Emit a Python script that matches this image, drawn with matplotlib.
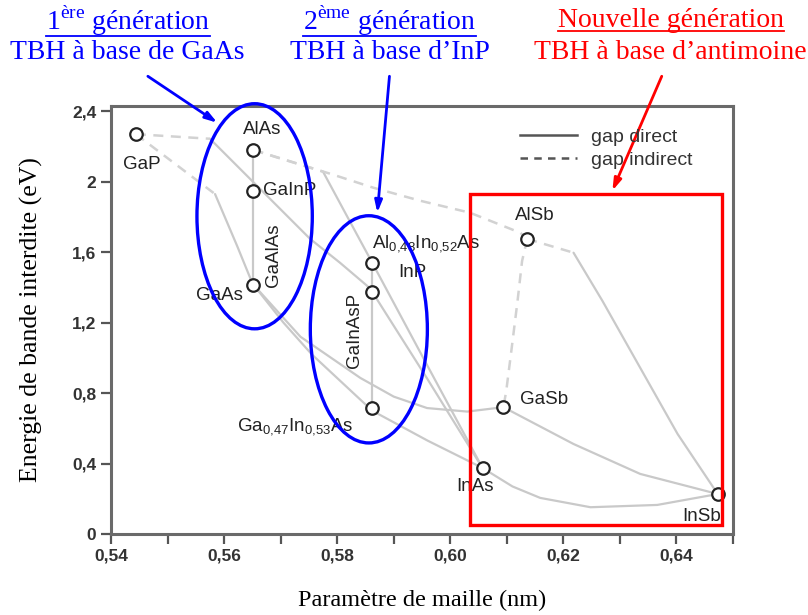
import matplotlib
matplotlib.use("Agg")
import matplotlib.pyplot as plt
from matplotlib.patches import Ellipse, Rectangle
from matplotlib.lines import Line2D
from matplotlib.ticker import MultipleLocator, FuncFormatter

plt.rcParams['mathtext.fontset'] = 'custom'
plt.rcParams['mathtext.rm'] = 'Liberation Serif'
plt.rcParams['mathtext.sf'] = 'Liberation Sans'

# points: lattice constant (nm) and band gap (eV)
names = ['GaP', 'AlAs', 'GaInP', 'GaAs', 'AlInAs', 'InP', 'GaInAs',
         'AlSb', 'GaSb', 'InAs', 'InSb']
a_nm = [0.5444, 0.5652, 0.5652, 0.5652, 0.5862, 0.5862, 0.5862,
        0.6136, 0.6094, 0.6057, 0.6473]
eg_ev = [2.27, 2.18, 1.95, 1.415, 1.54, 1.375, 0.716,
         1.675, 0.72, 0.375, 0.227]

# direct gap curves
algaas_a = [0.5652, 0.5652]
algaas_e = [2.18, 1.415]
gainasp_a = [0.5862, 0.5862]
gainasp_e = [1.54, 0.716]
gainp_a = [0.5575, 0.5752, 0.5805, 0.5853, 0.5862]
gainp_e = [2.244, 1.676, 1.54, 1.409, 1.375]
gaasp_a = [0.5584, 0.5623, 0.5646, 0.5652]
gaasp_e = [1.93, 1.636, 1.455, 1.415]
alinas_a = [0.5775, 0.5819, 0.5862, 0.5960, 0.6057]
alinas_e = [2.057, 1.795, 1.54, 0.953, 0.375]
inasp_a = [0.5862, 0.5959, 0.6057]
inasp_e = [1.375, 0.883, 0.375]
ingaas_a = [0.5652, 0.5705, 0.5755, 0.5862, 0.5960, 0.6057]
ingaas_e = [1.415, 1.20, 1.02, 0.70, 0.53, 0.375]
gaassb_a = [0.5652, 0.5735, 0.5841, 0.5900, 0.5959, 0.6030, 0.6094]
gaassb_e = [1.415, 1.12, 0.886, 0.78, 0.715, 0.695, 0.72]
alinsb_a = [0.6218, 0.6269, 0.6349, 0.6402, 0.6473]
alinsb_e = [1.597, 1.324, 0.869, 0.568, 0.227]
gainsb_a = [0.6094, 0.6218, 0.6336, 0.6473]
gainsb_e = [0.72, 0.511, 0.341, 0.227]
inassb_a = [0.6057, 0.6110, 0.6159, 0.6248, 0.6366, 0.6473]
inassb_e = [0.375, 0.27, 0.205, 0.152, 0.165, 0.227]

# indirect gap curves
gainp_ind_a = [0.5444, 0.5575]
gainp_ind_e = [2.27, 2.244]
gaasp_ind_a = [0.5444, 0.5584]
gaasp_ind_e = [2.27, 1.93]
alinas_ind_a = [0.5652, 0.5775]
alinas_ind_e = [2.18, 2.057]
alassb_ind_a = [0.5652, 0.5788, 0.5864, 0.5947, 0.6035, 0.6124, 0.6136]
alassb_ind_e = [2.18, 2.045, 1.966, 1.892, 1.824, 1.71, 1.675]
algasb_ind_a = [0.6136, 0.6127, 0.6119, 0.6108, 0.6099, 0.6094]
algasb_ind_e = [1.675, 1.55, 1.324, 1.04, 0.8125, 0.72]
alinsb_ind_a = [0.6136, 0.6218]
alinsb_ind_e = [1.675, 1.597]

direct = [(algaas_a, algaas_e), (gainasp_a, gainasp_e), (gainp_a, gainp_e),
          (gaasp_a, gaasp_e), (alinas_a, alinas_e), (inasp_a, inasp_e),
          (ingaas_a, ingaas_e), (gaassb_a, gaassb_e), (alinsb_a, alinsb_e),
          (gainsb_a, gainsb_e), (inassb_a, inassb_e)]
indirect = [(gainp_ind_a, gainp_ind_e), (gaasp_ind_a, gaasp_ind_e),
            (alinas_ind_a, alinas_ind_e), (alassb_ind_a, alassb_ind_e),
            (algasb_ind_a, algasb_ind_e), (alinsb_ind_a, alinsb_ind_e)]

sub = r'$_{\mathsf{%s}}$'
labels = [
    ('GaP', 0.5455, 2.097, 'center', 'center', 0),
    ('AlAs', 0.5667, 2.295, 'center', 'center', 0),
    ('GaInP', 0.5668, 1.949, 'left', 'center', 0),
    ('GaAlAs', 0.5687, 1.58, 'center', 'center', 90),
    ('GaAs', 0.5591, 1.352, 'center', 'center', 0),
    ('Al' + sub % '0{,}48' + 'In' + sub % '0{,}52' + 'As', 0.5862, 1.625, 'left', 'baseline', 0),
    ('InP', 0.5933, 1.483, 'center', 'center', 0),
    ('GaInAsP', 0.5830, 1.153, 'center', 'center', 90),
    ('Ga' + sub % '0{,}47' + 'In' + sub % '0{,}53' + 'As', 0.5623, 0.585, 'left', 'baseline', 0),
    ('AlSb', 0.6149, 1.807, 'center', 'center', 0),
    ('GaSb', 0.6166, 0.761, 'center', 'center', 0),
    ('InAs', 0.6044, 0.267, 'center', 'center', 0),
    ('InSb', 0.6444, 0.102, 'center', 'center', 0),
]

fig = plt.figure(figsize=(8.08, 6.15), dpi=100)
ax = fig.add_axes([111 / 808, 1 - 534 / 615, 622 / 808, 428 / 615])
ax.set_xlim(0.54, 0.65)
ax.set_ylim(0, 2.43)

line_col = '#c9c9c9'
for xs, ys in direct:
    ax.plot(xs, ys, color=line_col, lw=1.6, solid_capstyle='round',
            solid_joinstyle='round', zorder=2)
for xs, ys in indirect:
    ax.plot(xs, ys, color='#d2d2d2', lw=1.8, ls=(0, (4, 3)), zorder=2)

ax.plot(a_nm, eg_ev, 'o', ms=9, mfc='white', mec='#222222', mew=1.6, ls='none', zorder=4)

sans = ['Liberation Sans', 'DejaVu Sans']
for txt, x, y, ha, va, rot in labels:
    ax.text(x, y, txt, ha=ha, va=va, rotation=rot, fontsize=13.5,
            family=sans, color='#222222', zorder=5)

# legend
h_dir = Line2D([], [], color='#555555', lw=1.8)
h_ind = Line2D([], [], color='#555555', lw=1.8, ls=(0, (3, 2.5)))
leg = ax.legend([h_dir, h_ind], ['gap direct', 'gap indirect'],
                loc='upper left', bbox_to_anchor=(0.6576, 0.948), frameon=False,
                handlelength=2.95, handletextpad=0.72, labelspacing=0.28,
                borderpad=0, borderaxespad=0,
                prop={'family': 'Liberation Sans', 'size': 14})
for t in leg.get_texts():
    t.set_color('#333333')

# axes styling
for s in ax.spines.values():
    s.set_color('#6a6a6a')
    s.set_linewidth(2.2)
ax.xaxis.set_major_locator(MultipleLocator(0.02))
ax.xaxis.set_minor_locator(MultipleLocator(0.01))
ax.yaxis.set_major_locator(MultipleLocator(0.4))
ax.xaxis.set_major_formatter(FuncFormatter(lambda v, p: f'{v:.2f}'.replace('.', ',')))
ax.yaxis.set_major_formatter(FuncFormatter(lambda v, p: f'{v:g}'.replace('.', ',')))
ax.tick_params(which='both', direction='out', color='#555555', width=1.6, length=7)
ax.tick_params(labelsize=12.5, labelcolor='#333333')
for t in ax.get_xticklabels() + ax.get_yticklabels():
    t.set_family(sans)
    t.set_fontweight('bold')

serif = ['Liberation Serif', 'DejaVu Serif']
ax.set_xlabel('Paramètre de maille (nm)', family=serif, fontsize=17.5, labelpad=19)
ax.set_ylabel('Energie de bande interdite (eV)', family=serif, fontsize=18.5, labelpad=21)

# highlighted groups
ax.add_patch(Ellipse((0.5654, 1.804), 0.0204, 1.278, fill=False, ec='#0000ff', lw=2.4,
                     clip_on=False, zorder=6))
ax.add_patch(Ellipse((0.5856, 1.162), 0.0207, 1.29, fill=False, ec='#0000ff', lw=2.4,
                     clip_on=False, zorder=6))
ax.add_patch(Rectangle((0.6035, 0.051), 0.0446, 1.881, fill=False, ec='#ff0000', lw=2.4,
                       clip_on=False, zorder=6))

# captions above the plot, each with an arrow to its group
heads = [
    (0.158, 0.183, r'1$^{\mathrm{ère}}$ génération', 'TBH à base de GaAs', '#0000ff',
     (0.5588, 2.335)),
    (0.482, 0.482, r'2$^{\mathrm{ème}}$ génération', 'TBH à base d\u2019InP', '#0000ff',
     (0.5871, 1.824)),
    (0.830, 0.819, 'Nouvelle génération', 'TBH à base d\u2019antimoine', '#ff0000',
     (0.62867, 1.949)),
]
title_texts = []
for xc, xa, t1, t2, col, tip in heads:
    a = fig.text(xc, 0.966, t1, ha='center', va='center', fontsize=20, family=serif, color=col)
    fig.text(xc, 0.915, t2, ha='center', va='center', fontsize=20, family=serif, color=col)
    title_texts.append((a, col))
    ax.annotate('', xy=tip, xycoords='data', xytext=(xa, 0.876),
                textcoords='figure fraction',
                arrowprops=dict(arrowstyle='-|>,head_length=0.7,head_width=0.22', color=col,
                                lw=2.0, shrinkA=0, shrinkB=0))

# underline the generation headings
fig.canvas.draw()
inv = fig.transFigure.inverted()
for t, col in title_texts:
    bb = t.get_window_extent()
    (x0, y0), (x1, _) = inv.transform([(bb.x0, bb.y0 + 2), (bb.x1, bb.y0)])
    fig.add_artist(Line2D([x0, x1], [y0, y0], transform=fig.transFigure, color=col, lw=1.3))

fig.savefig('out.png', dpi=100)
